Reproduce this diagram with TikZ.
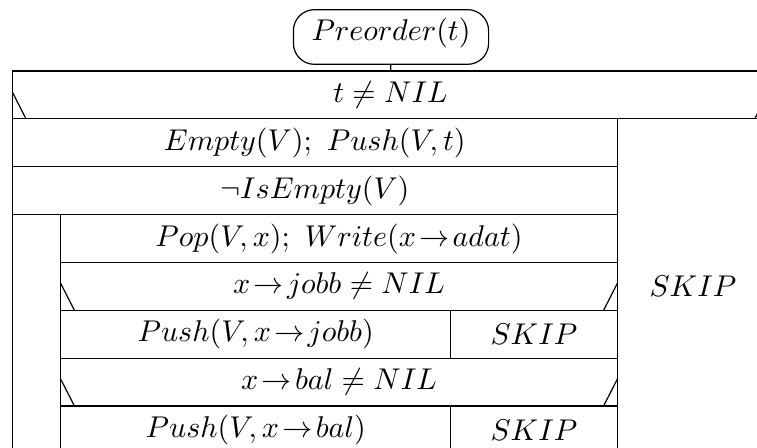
\documentclass[tikz,border=0pt]{standalone}
\usepackage{amsmath, amssymb}
\usepackage{tikz}

\begin{document}
\begin{tikzpicture}[
    x=0.333pt, y=-0.333pt,
    startbox/.style={draw, rounded corners=7pt, minimum width=65pt, inner xsep=0pt, inner ysep=2.5pt, text height=7.8pt, text depth=5.4pt},
    every node/.style={font=\normalsize},
    line width=0.4pt
  ]
  \useasboundingbox (0,0) rectangle (757,448);
  \clip (0,0) rectangle (757,448);

  % Start node
  \node[startbox] (pre) at (391,37) {$Preorder(t)$};
  \coordinate (top) at (390.7,71);
  \draw (pre) -- (top);

  % Outer branch t != NIL
  \draw (12.3,453.8) -- (12.3,71) -- (768.5,71) -- (768.5,453.8);
  \draw (12.3,118.85) -- (768.5,118.85);
  \draw (12.3,92) -- (26,118.85);
  \draw (768.5,92) -- (754.8,118.85);
  \draw (617.3,118.85) -- (617.3,453.8);
  \node (cond) at (390.4,95) {$t\neq NIL$};
  \node (skip) at (692.9,286.3) {$SKIP$};

  % Initialisation and loop
  \draw (12.3,166.7) -- (617.3,166.7);
  \draw (12.3,214.55) -- (617.3,214.55);
  \draw (60.7,214.55) -- (60.7,453.8);
  \node (init) at (314.8,142.8) {$Empty(V);\ Push(V,t)$};
  \node (loop) at (314.8,190.6) {$\neg IsEmpty(V)$};

  % Loop body
  \draw (60.7,262.4) -- (617.3,262.4);
  \node (pop) at (339,238.5) {$Pop(V,x);\ Write(x\!\rightarrow\!adat)$};

  % Branch on the right child
  \draw (60.7,310.25) -- (617.3,310.25);
  \draw (60.7,283.4) -- (74.4,310.25);
  \draw (617.3,283.4) -- (603.6,310.25);
  \draw (450.7,310.25) -- (450.7,358.1);
  \draw (60.7,358.1) -- (617.3,358.1);
  \node (ifj) at (339,286.3) {$x\!\rightarrow\!jobb\neq NIL$};
  \node (pushj) at (255.7,334.2) {$Push(V,x\!\rightarrow\!jobb)$};
  \node (skipj) at (534,334.2) {$SKIP$};

  % Branch on the left child
  \draw (60.7,405.95) -- (617.3,405.95);
  \draw (60.7,379.1) -- (74.4,405.95);
  \draw (617.3,379.1) -- (603.6,405.95);
  \draw (450.7,405.95) -- (450.7,453.8);
  \draw (12.3,453.8) -- (768.5,453.8);
  \node (ifb) at (339,382) {$x\!\rightarrow\!bal\neq NIL$};
  \node (pushb) at (255.7,429.9) {$Push(V,x\!\rightarrow\!bal)$};
  \node (skipb) at (534,429.9) {$SKIP$};
\end{tikzpicture}
\end{document}
